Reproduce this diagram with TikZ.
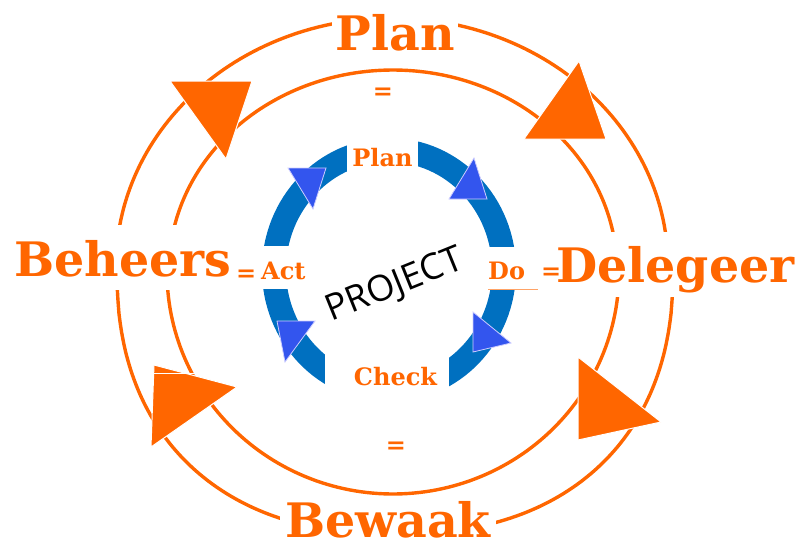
\documentclass[tikz,border=0pt]{standalone}
\usepackage{fontspec}
\setmainfont{DejaVu Serif}
\newfontfamily\projfont{Open Sans}
\definecolor{org}{HTML}{FF6600}
\definecolor{ringblue}{HTML}{0070C0}
\definecolor{triblue}{HTML}{3355EE}
\begin{document}
\begin{tikzpicture}[x=1pt,y=-1pt,
  arcline/.style={draw=org, line width=3.4pt, line join=round},
  bigl/.style={text=org, font=\fontsize{47.5}{56}\selectfont\bfseries, fill=white, inner sep=0pt},
  smalll/.style={text=org, font=\fontsize{24}{29}\selectfont\bfseries, fill=white, inner sep=0pt},
  eqs/.style={text=org, font=\fontsize{24}{29}\selectfont\bfseries, inner sep=0pt},
  otri/.style={fill=org, draw=white, line width=1pt},
  btri/.style={fill=triblue, draw=white!80!blue, line width=0.8pt},
]
\useasboundingbox (0,0) rectangle (804,542);
% orange arcs
\draw[arcline] plot[domain=2:178, samples=120] ({392+276*cos(\x)},{266-248*sin(\x)});
\draw[arcline] plot[domain=2:178, samples=120] ({393+224*cos(\x)},{270-200*sin(\x)});
\draw[arcline] plot[domain=2:178, samples=120] ({393+226*cos(\x)},{272+222*sin(\x)});
\draw[arcline] plot[domain=179:91, samples=70] ({395-278*pow(-cos(\x),0.8696)},{268+266*pow(sin(\x),0.8696)});
\draw[arcline] plot[domain=89:1, samples=70] ({395+278*pow(cos(\x),0.8696)},{268+266*pow(sin(\x),0.8696)});
% orange arrowheads
\fill[otri] (170,81) -- (252,81) -- (226,159) -- cycle;
\fill[otri] (579,61) -- (606,139) -- (524,139) -- cycle;
\fill[otri] (578,357) -- (578,440) -- (661,422) -- cycle;
\fill[otri] (154,365) -- (237,387) -- (151,447) -- cycle;
\draw[white, line width=0.8pt] (154,373.5) -- (196,373.5);
% big labels
\node[bigl, text height=37pt, text depth=8pt, anchor=base, inner xsep=3pt] (plan) at (395,50) {Plan};
\node[bigl, text height=51pt, text depth=14pt, anchor=base west] (beheers) at (14,276) {Beheers};
\node[bigl, text height=50pt, text depth=15pt, anchor=base west] (delegeer) at (556,282) {Delegeer};
\node[bigl, text height=36pt, text depth=4pt, anchor=base, inner xsep=5pt] (bewaak) at (388,537) {Bewaak};
% blue ring
\draw[ringblue, line width=24pt] (389,270) ellipse [x radius=115, y radius=120];
\fill[white] (325,352) rectangle (449,405);
\node[smalll, text height=32pt, text depth=7pt, inner xsep=5pt, anchor=base] (splan) at (382.5,166) {Plan};
\node[smalll, text height=33pt, text depth=10pt, inner xsep=2pt, anchor=base west] (act) at (259,279) {Act};
\node[smalll, text height=32pt, text depth=10pt, anchor=base west] (do) at (488,279) {Do};
\node[smalll, anchor=base] (check) at (395.5,385) {Check};
\draw[org!60, line width=0.8pt] (do.south west) -- ++(50,0) coordinate (doend);
% equals signs
\node[eqs] (eqtop) at (383,94) {=};
\node[eqs] (eqbot) at (396,448) {=};
\node[eqs, anchor=base west] (eqleft) at (236,281) {=};
\node[eqs, anchor=base west] (eqright) at (541,279) {=};
% blue arrowheads
\fill[btri] (288,168) -- (326,168) -- (313,209) -- cycle;
\fill[btri] (449,199) -- (487,199) -- (474,158) -- cycle;
\fill[btri] (473,312) -- (473,352) -- (511,343) -- cycle;
\fill[btri] (277,321) -- (315,321) -- (285,362) -- cycle;
% centre text
\node[rotate=22, font=\projfont\fontsize{36}{43}\selectfont, inner sep=0pt] (project) at (395,286) {PROJECT};
\end{tikzpicture}
\end{document}
